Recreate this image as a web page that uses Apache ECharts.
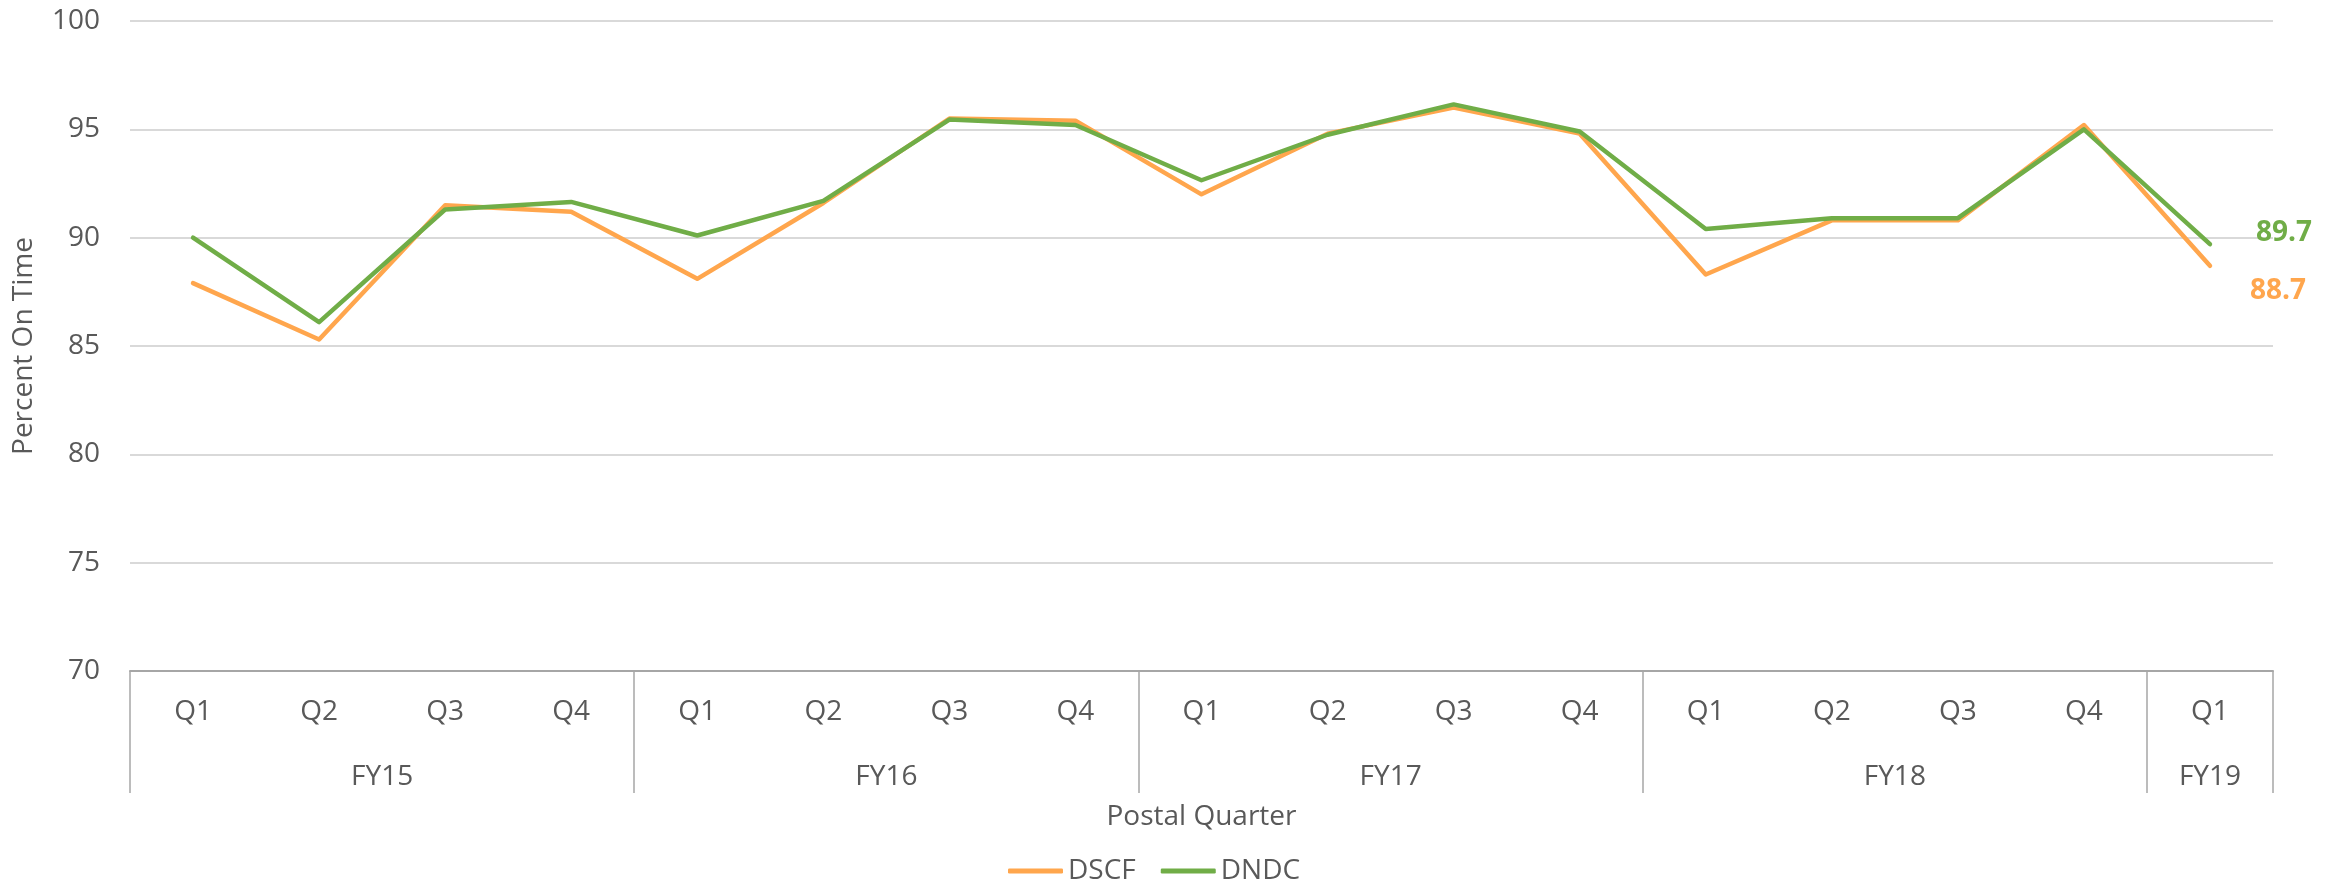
<!DOCTYPE html>
<html>
<head>
<meta charset="utf-8">
<script src="https://cdn.jsdelivr.net/npm/echarts@6/dist/echarts.min.js"></script>
<style>
    html, body { margin: 0; padding: 0; background: #fff; }
    #chart { width: 2343px; height: 880px; }
</style>
</head>
<body>
<div id="chart"></div>
<script>
    // quarters on the first axis row, fiscal years on the second row
    var quarters = ['Q1', 'Q2', 'Q3', 'Q4', 'Q1', 'Q2', 'Q3', 'Q4', 'Q1', 'Q2', 'Q3', 'Q4', 'Q1', 'Q2', 'Q3', 'Q4', 'Q1'];
    var fiscalYears = ['FY15', 'FY16', 'FY17', 'FY18', 'FY19'];
    var yearSpans = [4, 4, 4, 4, 1];

    var dscf = [87.9, 85.3, 91.5, 91.2, 88.1, 91.6, 95.5, 95.4, 92.0, 94.8, 96.0, 94.8, 88.3, 90.8, 90.8, 95.2, 88.7];
    var dndc = [90.0, 86.1, 91.3, 91.65, 90.1, 91.7, 95.45, 95.2, 92.65, 94.75, 96.15, 94.9, 90.4, 90.9, 90.9, 95.0, 89.7];

    var yTicks = [70, 75, 80, 85, 90, 95, 100];

    var textColor = '#595959';
    var font = 'Open Sans';

    // build the category names (unique) and fiscal-year positions
    var fyIndex = [];
    for (var i = 0; i < yearSpans.length; i++) {
        for (var k = 0; k < yearSpans[i]; k++) fyIndex.push(i);
    }
    var categories = quarters.map(function (q, i) { return fiscalYears[fyIndex[i]] + ' ' + q; });

    var bounds = [0];
    var centers = [];
    var pos = 0;
    for (var j = 0; j < yearSpans.length; j++) {
        centers.push(pos + yearSpans[j] / 2);
        pos += yearSpans[j];
        bounds.push(pos);
    }

    var myChart = echarts.init(document.getElementById('chart'));

    var option = {};
    option['animation'] = false;
    option['textStyle'] = {fontFamily: font};
    option['grid'] = {left: 130, right: 70, top: 21, bottom: 209, containLabel: false};

    option['legend'] = {
        data: ['DSCF', 'DNDC'],
        left: 1003, top: 852,
        icon: 'roundRect', itemWidth: 55, itemHeight: 5, itemGap: 25,
        textStyle: {fontSize: 28, color: textColor, fontFamily: font}
    };

    option['xAxis'] = [
        {
            type: 'category', data: categories, position: 'bottom', boundaryGap: true,
            axisLine: {show: true, lineStyle: {color: '#a6a6a6', width: 2}},
            axisTick: {show: false},
            axisLabel: {
                margin: 27, fontSize: 28, color: textColor, fontFamily: font, interval: 0,
                formatter: function (v) { return v.split(' ')[1]; }
            }
        },
        {
            type: 'value', position: 'bottom', min: 0, max: quarters.length,
            name: 'Postal Quarter', nameLocation: 'middle', nameGap: 132,
            nameTextStyle: {fontSize: 28, color: textColor, fontFamily: font},
            splitLine: {show: false},
            axisLine: {show: false},
            axisTick: {show: true, customValues: bounds, length: 122, lineStyle: {color: '#a6a6a6', width: 1.5}},
            axisLabel: {
                show: true, customValues: centers, margin: 92, fontSize: 28, color: textColor, fontFamily: font,
                formatter: function (v) { return fiscalYears[centers.indexOf(v)] || ''; }
            }
        }
    ];

    option['yAxis'] = {
        type: 'value', min: yTicks[0], max: yTicks[yTicks.length - 1], interval: 5,
        name: 'Percent On Time', nameLocation: 'middle', nameGap: 92, nameRotate: 90,
        nameTextStyle: {fontSize: 28, color: textColor, fontFamily: font},
        axisLine: {show: false},
        axisTick: {show: false},
        axisLabel: {margin: 30, fontSize: 28, color: textColor, fontFamily: font},
        splitLine: {lineStyle: {color: '#d9d9d9', width: 2}}
    };

    option['series'] = [
        {
            name: 'DSCF', type: 'line', data: dscf, xAxisIndex: 0,
            symbol: 'none', color: '#FFA64D',
            lineStyle: {width: 4.5, cap: 'round', join: 'round'},
            endLabel: {show: true, formatter: '{c}', distance: 40, offset: [0, 25],
                fontSize: 28, fontWeight: 'bold', color: '#FFA64D', fontFamily: font}
        },
        {
            name: 'DNDC', type: 'line', data: dndc, xAxisIndex: 0,
            symbol: 'none', color: '#70AD47',
            lineStyle: {width: 4.5, cap: 'round', join: 'round'},
            endLabel: {show: true, formatter: '{c}', distance: 46, offset: [0, -11],
                fontSize: 28, fontWeight: 'bold', color: '#70AD47', fontFamily: font}
        }
    ];

    myChart.setOption(option);
</script>
</body>
</html>
